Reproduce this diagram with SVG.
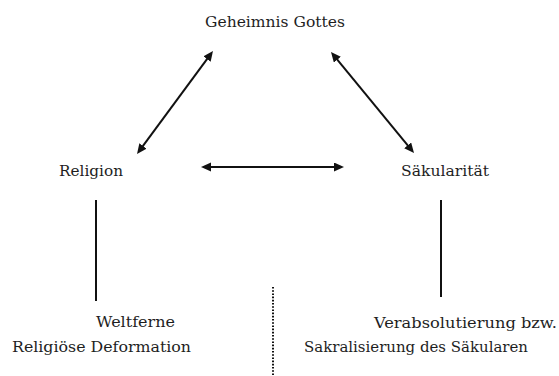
<svg xmlns="http://www.w3.org/2000/svg" width="559" height="376" viewBox="0 0 559 376">
<style>
text{font-family:"DejaVu Serif","Liberation Serif",serif;font-size:15px;fill:#1e1e1e;}
.ln{stroke:#111;stroke-width:2;fill:none;}
.dot{stroke:#111;stroke-width:2;stroke-dasharray:1.6 1.6;fill:none;}
</style>
<defs>
<marker id="ah" markerUnits="userSpaceOnUse" markerWidth="12" markerHeight="10" refX="4" refY="4.5" orient="auto-start-reverse">
<path d="M0,0 L10,4.5 L0,9 z" fill="#111"/>
</marker>
</defs>
<rect width="559" height="376" fill="#fff"/>
<g id="n-gott"><text x="205" y="27" textLength="140" lengthAdjust="spacingAndGlyphs">Geheimnis Gottes</text></g>
<g id="n-religion"><text x="59" y="176" textLength="64" lengthAdjust="spacingAndGlyphs">Religion</text></g>
<g id="n-saek"><text x="401" y="176" textLength="88" lengthAdjust="spacingAndGlyphs">Säkularität</text></g>
<g id="n-weltferne">
<text x="96" y="327" textLength="79" lengthAdjust="spacingAndGlyphs">Weltferne</text>
<text x="12" y="352" textLength="179" lengthAdjust="spacingAndGlyphs">Religiöse Deformation</text>
</g>
<g id="n-verabs">
<text x="374" y="328" textLength="183" lengthAdjust="spacingAndGlyphs">Verabsolutierung bzw.</text>
<text x="304" y="352" textLength="224" lengthAdjust="spacingAndGlyphs">Sakralisierung des Säkularen</text>
</g>
<g id="connectors">
<line class="ln" x1="140.6" y1="149.2" x2="209.4" y2="55.8" marker-start="url(#ah)" marker-end="url(#ah)"/>
<line class="ln" x1="334.8" y1="56.6" x2="410.2" y2="148.4" marker-start="url(#ah)" marker-end="url(#ah)"/>
<line class="ln" x1="207" y1="167" x2="338" y2="167" marker-start="url(#ah)" marker-end="url(#ah)"/>
<line class="ln" x1="96" y1="200" x2="96" y2="301"/>
<line class="ln" x1="441" y1="200" x2="441" y2="297"/>
<line class="dot" x1="273" y1="287" x2="273" y2="375"/>
</g>
</svg>
